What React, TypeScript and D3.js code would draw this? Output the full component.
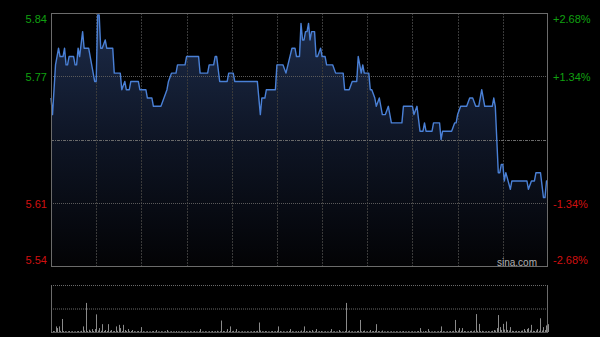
import React from "react";
import * as d3 from "d3";

const prevClose = 5.69;
const pctRange = 0.0268;
const totalMinutes = 330;

const priceMinutes = [
  0, 1, 3, 4, 5, 6, 8, 9, 10, 11, 12, 15, 16, 17, 18, 19, 21, 22, 25, 29,
  30, 31, 32, 33, 34, 36, 37, 41, 42, 46, 47, 49, 50, 52, 53, 58, 59, 63, 64, 67,
  68, 73, 77, 78, 80, 83, 84, 89, 90, 98, 99, 104, 105, 108, 109, 110, 112, 117, 118, 121,
  122, 137, 139, 140, 142, 143, 149, 150, 154, 156, 160, 162, 163, 165, 166, 167, 168, 169, 170, 171,
  172, 173, 175, 176, 177, 179, 180, 182, 183, 187, 189, 194, 195, 198, 200, 203, 204, 206, 207, 208,
  211, 212, 213, 215, 216, 218, 220, 222, 224, 226, 233, 234, 240, 241, 243, 245, 247, 248, 249, 253,
  254, 258, 259, 260, 266, 268, 269, 270, 272, 276, 278, 280, 282, 284, 286, 288, 293, 294, 295, 297,
  298, 299, 300, 301, 302, 305, 306, 316, 317, 319, 321, 322, 325, 327, 328, 329, 330,
];
const prices = [
  5.74, 5.72, 5.78, 5.79, 5.80, 5.79, 5.79, 5.80, 5.78, 5.78, 5.79, 5.79, 5.78, 5.78, 5.80, 5.79, 5.82, 5.80, 5.80, 5.76,
  5.76, 5.84, 5.84, 5.80, 5.80, 5.81, 5.80, 5.80, 5.77, 5.77, 5.75, 5.76, 5.75, 5.75, 5.76, 5.76, 5.75, 5.75, 5.74, 5.74,
  5.73, 5.73, 5.75, 5.76, 5.77, 5.77, 5.78, 5.78, 5.79, 5.79, 5.77, 5.77, 5.78, 5.78, 5.79, 5.79, 5.76, 5.76, 5.77, 5.77,
  5.76, 5.76, 5.72, 5.74, 5.74, 5.75, 5.75, 5.78, 5.78, 5.77, 5.80, 5.80, 5.79, 5.79, 5.83, 5.81, 5.81, 5.82, 5.82, 5.83,
  5.81, 5.82, 5.82, 5.79, 5.79, 5.80, 5.79, 5.79, 5.78, 5.78, 5.77, 5.77, 5.75, 5.75, 5.76, 5.76, 5.79, 5.77, 5.78, 5.77,
  5.77, 5.75, 5.75, 5.74, 5.73, 5.74, 5.72, 5.72, 5.73, 5.71, 5.71, 5.73, 5.73, 5.72, 5.73, 5.70, 5.70, 5.71, 5.70, 5.70,
  5.71, 5.71, 5.69, 5.70, 5.70, 5.71, 5.71, 5.72, 5.73, 5.73, 5.74, 5.74, 5.73, 5.73, 5.75, 5.73, 5.73, 5.74, 5.73, 5.65,
  5.65, 5.66, 5.66, 5.64, 5.65, 5.63, 5.64, 5.64, 5.63, 5.64, 5.64, 5.65, 5.65, 5.62, 5.62, 5.64, 5.64,
];

const volumes = [
  173, 10, 8, 57, 40, 57, 12, 133, 10, 8, 6, 8, 10, 6, 8, 5, 6, 8, 10, 6, 12, 57, 15, 297, 10, 23, 12, 30, 10, 30,
  180, 15, 40, 12, 80, 10, 20, 10, 80, 12, 20, 8, 10, 57, 12, 73, 40, 10, 73, 20, 10, 30, 8, 10, 20, 8, 6, 8, 10, 6,
  50, 8, 5, 6, 8, 5, 6, 8, 10, 5, 20, 6, 5, 8, 6, 5, 8, 20, 6, 5, 8, 6, 5, 10, 6, 5, 8, 5, 6, 8,
  6, 5, 8, 6, 5, 10, 6, 5, 8, 30, 6, 5, 8, 6, 5, 8, 6, 10, 5, 8, 12, 6, 8, 117, 10, 8, 6, 30, 10, 57,
  8, 12, 6, 30, 8, 6, 5, 8, 6, 5, 8, 6, 5, 8, 6, 10, 8, 12, 97, 15, 8, 6, 10, 8, 6, 5, 8, 10, 6, 8,
  12, 57, 10, 6, 8, 5, 6, 8, 10, 30, 8, 6, 5, 8, 10, 6, 15, 8, 57, 10, 6, 12, 8, 20, 6, 8, 30, 6, 8, 10,
  6, 5, 8, 6, 5, 8, 30, 6, 8, 5, 6, 20, 8, 6, 5, 10, 297, 8, 15, 6, 8, 5, 6, 10, 12, 123, 8, 10, 15, 6,
  8, 6, 20, 8, 10, 12, 80, 10, 8, 6, 15, 6, 5, 8, 6, 5, 8, 6, 5, 8, 6, 5, 8, 6, 10, 5, 6, 8, 5, 6,
  8, 6, 5, 8, 10, 40, 6, 8, 10, 6, 30, 8, 5, 6, 8, 5, 6, 8, 10, 57, 8, 6, 5, 8, 6, 10, 8, 12, 123, 10,
  15, 40, 12, 40, 10, 8, 6, 8, 10, 12, 8, 15, 183, 12, 83, 10, 12, 8, 6, 8, 10, 6, 8, 12, 20, 15, 40, 173, 50, 20,
  83, 25, 107, 20, 15, 50, 12, 10, 8, 12, 10, 8, 12, 15, 30, 12, 30, 40, 15, 73, 12, 10, 15, 30, 12, 140, 15, 50, 20, 67, 80,
];
const volumeMax = 480;

const leftLabels = ["5.84", "5.77", "", "5.61", "5.54"];
const rightLabels = ["+2.68%", "+1.34%", "", "-1.34%", "-2.68%"];

export default function App() {
  const W = 600;
  const H = 337;
  const L = 51;
  const R = 548;
  const T = 13;
  const B = 266;
  const vT = 285;
  const vB = 332;

  const x = d3.scaleLinear().domain([0, totalMinutes]).range([L, R]);
  const y = d3
    .scaleLinear()
    .domain([prevClose * (1 - pctRange), prevClose * (1 + pctRange)])
    .range([B, T]);
  const yv = d3.scaleLinear().domain([0, volumeMax]).range([vB, vT]);

  const pts = priceMinutes.map((m, i) => [m, prices[i]] as [number, number]);
  const line = d3
    .line<[number, number]>()
    .x((d) => x(d[0]))
    .y((d) => y(d[1]));
  const area = d3
    .area<[number, number]>()
    .x((d) => x(d[0]))
    .y0(B)
    .y1((d) => y(d[1]));

  const hLines = d3.range(5).map((i) => T + ((B - T) * i) / 4);
  const vLines = d3.range(30, totalMinutes, 30);

  const labelOffset = (i: number) => (i === 0 ? 6 : i === 4 ? -6 : 1);

  return (
    <svg
      width={W}
      height={H}
      style={{ position: "absolute", left: 0, top: 0, background: "#000" }}
      fontFamily="Arial, 'Liberation Sans', sans-serif"
    >
      <defs>
        <linearGradient id="areaGrad" gradientUnits="userSpaceOnUse" x1="0" y1={T} x2="0" y2={B}>
          <stop offset="0%" stopColor="#1d2c4a" />
          <stop offset="50%" stopColor="#0e1525" />
          <stop offset="100%" stopColor="#030305" />
        </linearGradient>
      </defs>
      <rect x={0} y={0} width={W} height={H} fill="#000" />

      {/* area */}
      <path d={area(pts) || ""} fill="url(#areaGrad)" />

      {/* vertical grid */}
      {vLines.map((m) => (
        <line
          key={"v" + m}
          x1={Math.round(x(m)) + 0.5}
          x2={Math.round(x(m)) + 0.5}
          y1={T}
          y2={B}
          stroke="#3a3a3a"
          strokeDasharray="2,1"
        />
      ))}
      {/* horizontal grid */}
      {hLines.slice(1, 4).map((hy, i) => (
        <line
          key={"h" + i}
          x1={L}
          x2={R}
          y1={Math.round(hy) + 0.5}
          y2={Math.round(hy) + 0.5}
          stroke={i === 1 ? "#6a6a6a" : "#5a5a5a"}
          strokeDasharray={i === 1 ? "3,1,1,1" : "1,1"}
        />
      ))}

      {/* price line */}
      <path d={line(pts) || ""} fill="none" stroke="#4a80d6" strokeWidth={1.4} strokeLinejoin="round" />

      {/* frame */}
      <rect x={L + 0.5} y={T + 0.5} width={R - L - 1} height={B - T} fill="none" stroke="#6b6b6b" strokeWidth={1} />

      {/* labels */}
      {hLines.map((hy, i) =>
        leftLabels[i] ? (
          <text
            key={"l" + i}
            x={47}
            y={hy + labelOffset(i)}
            textAnchor="end"
            dominantBaseline="central"
            fontSize={11}
            fill={i < 2 ? "#10a010" : "#d01010"}
          >
            {leftLabels[i]}
          </text>
        ) : null
      )}
      {hLines.map((hy, i) =>
        rightLabels[i] ? (
          <text
            key={"r" + i}
            x={553}
            y={hy + labelOffset(i)}
            textAnchor="start"
            dominantBaseline="central"
            fontSize={11}
            fill={i < 2 ? "#10a010" : "#d01010"}
          >
            {rightLabels[i]}
          </text>
        ) : null
      )}
      <text x={537} y={262} textAnchor="end" dominantBaseline="central" fontSize={10} fill="#b0b0b0">
        sina.com
      </text>

      {/* volume panel */}
      <line x1={L} x2={R} y1={vT + 0.5} y2={vT + 0.5} stroke="#6a6a6a" strokeDasharray="1,1" />
      <line x1={L} x2={R} y1={(vT + vB) / 2 + 0.5} y2={(vT + vB) / 2 + 0.5} stroke="#6a6a6a" strokeDasharray="1,1" />
      {volumes.map((v, m) => (
        <line
          key={"vol" + m}
          x1={Math.round(x(m)) + 0.5}
          x2={Math.round(x(m)) + 0.5}
          y1={vB}
          y2={yv(v)}
          stroke="#8a8a8a"
          strokeWidth={1}
        />
      ))}
      <line x1={L} x2={R} y1={vB + 0.5} y2={vB + 0.5} stroke="#555" />
      <line x1={L + 0.5} x2={L + 0.5} y1={vT} y2={vB + 1} stroke="#6b6b6b" />
      <line x1={R - 0.5} x2={R - 0.5} y1={vT} y2={vB + 1} stroke="#6b6b6b" />
    </svg>
  );
}
